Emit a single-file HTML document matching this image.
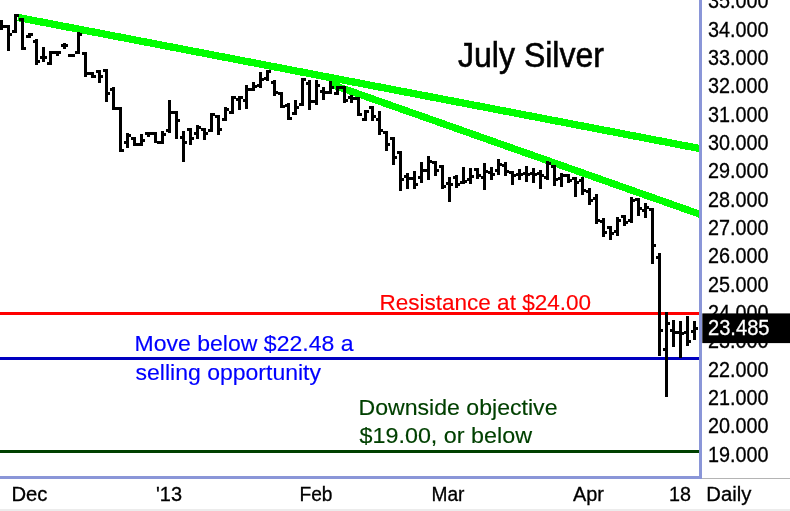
<!DOCTYPE html>
<html>
<head>
<meta charset="utf-8">
<title>July Silver</title>
<style>
html, body { margin: 0; padding: 0; background: #ffffff; }
body { width: 790px; height: 511px; overflow: hidden; }
svg { display: block; }
text { font-family: 'Liberation Sans', Arial, sans-serif; }
</style>
</head>
<body>
<svg width="790" height="511" viewBox="0 0 790 511">
<rect x="0" y="0" width="790" height="511" fill="#ffffff"/>
<rect x="0" y="509" width="790" height="2" fill="#ececec" shape-rendering="crispEdges"/>

<!-- trend lines -->
<g stroke="#00ff00" stroke-width="7" stroke-linecap="butt" fill="none" shape-rendering="crispEdges">
<line x1="18" y1="17.5" x2="700" y2="148.6" stroke-width="7.3"/>
<line x1="330" y1="83.9" x2="700" y2="214.3" stroke-width="7.1"/>
</g>

<!-- horizontal levels -->
<g shape-rendering="crispEdges">
<rect x="0" y="312" width="699" height="3" fill="#ff0000"/>
<rect x="0" y="357" width="699" height="3" fill="#0000c0"/>
<rect x="0" y="450" width="699" height="3" fill="#004000"/>
</g>

<!-- axes -->
<g shape-rendering="crispEdges">
<rect x="699" y="0" width="3" height="479" fill="#8a96d8"/>
<rect x="0" y="476" width="702" height="3" fill="#8a96d8"/>
<rect x="702" y="478" width="88" height="1" fill="#b4b4b4"/>
</g>

<!-- price bars -->
<path d="M0 20h3v10h-3zM3 25h2v3h-2zM7 25h3v26h-3zM5 25h2v3h-2zM10 33h2v3h-2zM14 14h3v19h-3zM12 30h2v3h-2zM17 14h2v3h-2zM21 18h3v32h-3zM19 18h2v3h-2zM24 47h2v3h-2zM28 33h3v5h-3zM26 35h2v3h-2zM31 33h2v3h-2zM35 39h3v26h-3zM33 40h2v3h-2zM38 60h2v3h-2zM42 47h3v15h-3zM40 56h2v3h-2zM45 56h2v3h-2zM49 51h3v14h-3zM47 62h2v3h-2zM52 51h2v3h-2zM56 51h3v5h-3zM54 51h2v3h-2zM59 51h2v3h-2zM63 43h3v6h-3zM61 44h2v3h-2zM66 44h2v3h-2zM70 54h3v3h-3zM68 54h2v3h-2zM73 54h2v3h-2zM77 32h3v22h-3zM75 51h2v3h-2zM80 33h2v3h-2zM84 52h3v25h-3zM82 52h2v3h-2zM87 72h2v3h-2zM91 72h3v6h-3zM89 72h2v3h-2zM94 75h2v3h-2zM98 70h3v13h-3zM96 70h2v3h-2zM101 75h2v3h-2zM105 69h3v33h-3zM103 69h2v3h-2zM108 92h2v3h-2zM112 87h3v23h-3zM110 88h2v3h-2zM115 107h2v3h-2zM119 107h3v45h-3zM117 107h2v3h-2zM122 149h2v3h-2zM126 133h3v15h-3zM124 141h2v3h-2zM129 134h2v3h-2zM133 137h3v9h-3zM131 137h2v3h-2zM136 143h2v3h-2zM140 134h3v12h-3zM138 143h2v3h-2zM143 139h2v3h-2zM147 132h3v5h-3zM145 132h2v3h-2zM150 132h2v3h-2zM154 132h3v11h-3zM152 132h2v3h-2zM157 141h2v3h-2zM161 131h3v13h-3zM159 141h2v3h-2zM164 133h2v3h-2zM168 100h3v33h-3zM166 129h2v3h-2zM171 111h2v3h-2zM175 111h3v28h-3zM173 111h2v3h-2zM178 119h2v3h-2zM182 131h3v31h-3zM180 136h2v3h-2zM185 141h2v3h-2zM189 128h3v17h-3zM187 128h2v3h-2zM192 137h2v3h-2zM196 125h3v14h-3zM194 132h2v3h-2zM199 126h2v3h-2zM203 128h3v12h-3zM201 128h2v3h-2zM206 132h2v3h-2zM210 113h3v19h-3zM208 129h2v3h-2zM213 113h2v3h-2zM217 115h3v20h-3zM215 115h2v3h-2zM220 128h2v3h-2zM224 107h3v14h-3zM222 118h2v3h-2zM227 108h2v3h-2zM231 96h3v18h-3zM229 111h2v3h-2zM234 96h2v3h-2zM238 96h3v14h-3zM236 98h2v3h-2zM241 96h2v3h-2zM245 85h3v24h-3zM243 99h2v3h-2zM248 88h2v3h-2zM252 82h3v9h-3zM250 88h2v3h-2zM255 85h2v3h-2zM259 72h3v16h-3zM257 84h2v3h-2zM262 78h2v3h-2zM266 70h3v11h-3zM264 77h2v3h-2zM269 70h2v3h-2zM273 80h3v16h-3zM271 81h2v3h-2zM276 91h2v3h-2zM280 92h3v16h-3zM278 92h2v3h-2zM283 105h2v3h-2zM287 103h3v17h-3zM285 104h2v3h-2zM290 117h2v3h-2zM294 100h3v15h-3zM292 112h2v3h-2zM297 106h2v3h-2zM301 78h3v28h-3zM299 103h2v3h-2zM304 78h2v3h-2zM308 80h3v30h-3zM306 82h2v3h-2zM311 100h2v3h-2zM315 80h3v25h-3zM313 100h2v3h-2zM318 84h2v3h-2zM322 87h3v13h-3zM320 90h2v3h-2zM325 91h2v3h-2zM329 81h3v13h-3zM327 91h2v3h-2zM332 86h2v3h-2zM336 86h3v9h-3zM334 92h2v3h-2zM339 86h2v3h-2zM343 86h3v17h-3zM341 86h2v3h-2zM346 99h2v3h-2zM350 95h3v8h-3zM348 96h2v3h-2zM353 97h2v3h-2zM357 97h3v19h-3zM355 97h2v3h-2zM360 113h2v3h-2zM364 110h3v11h-3zM362 118h2v3h-2zM367 110h2v3h-2zM371 106h3v15h-3zM369 106h2v3h-2zM374 115h2v3h-2zM378 111h3v24h-3zM376 118h2v3h-2zM381 129h2v3h-2zM385 131h3v20h-3zM383 131h2v3h-2zM388 143h2v3h-2zM392 137h3v28h-3zM390 137h2v3h-2zM395 156h2v3h-2zM399 151h3v40h-3zM397 151h2v3h-2zM402 178h2v3h-2zM406 173h3v16h-3zM404 175h2v3h-2zM409 177h2v3h-2zM413 171h3v18h-3zM411 177h2v3h-2zM416 183h2v3h-2zM420 162h3v21h-3zM418 176h2v3h-2zM423 169h2v3h-2zM427 156h3v24h-3zM425 169h2v3h-2zM430 160h2v3h-2zM434 161h3v15h-3zM432 161h2v3h-2zM437 169h2v3h-2zM441 165h3v24h-3zM439 165h2v3h-2zM444 185h2v3h-2zM448 177h3v25h-3zM446 182h2v3h-2zM451 183h2v3h-2zM455 175h3v13h-3zM453 176h2v3h-2zM458 183h2v3h-2zM462 167h3v17h-3zM460 181h2v3h-2zM465 180h2v3h-2zM469 168h3v16h-3zM467 178h2v3h-2zM472 175h2v3h-2zM476 168h3v11h-3zM474 168h2v3h-2zM479 174h2v3h-2zM483 163h3v27h-3zM481 176h2v3h-2zM486 170h2v3h-2zM490 167h3v13h-3zM488 171h2v3h-2zM493 173h2v3h-2zM497 159h3v16h-3zM495 169h2v3h-2zM500 163h2v3h-2zM504 162h3v14h-3zM502 164h2v3h-2zM507 170h2v3h-2zM511 171h3v14h-3zM509 171h2v3h-2zM514 174h2v3h-2zM518 169h3v11h-3zM516 173h2v3h-2zM521 173h2v3h-2zM525 166h3v16h-3zM523 172h2v3h-2zM528 173h2v3h-2zM532 168h3v15h-3zM530 172h2v3h-2zM535 173h2v3h-2zM539 170h3v19h-3zM537 172h2v3h-2zM542 174h2v3h-2zM546 161h3v19h-3zM544 176h2v3h-2zM549 162h2v3h-2zM553 165h3v21h-3zM551 165h2v3h-2zM556 178h2v3h-2zM560 173h3v14h-3zM558 177h2v3h-2zM563 174h2v3h-2zM567 174h3v9h-3zM565 174h2v3h-2zM570 179h2v3h-2zM574 177h3v20h-3zM572 177h2v3h-2zM577 181h2v3h-2zM581 177h3v18h-3zM579 179h2v3h-2zM584 189h2v3h-2zM588 188h3v17h-3zM586 190h2v3h-2zM591 199h2v3h-2zM595 194h3v30h-3zM593 197h2v3h-2zM598 219h2v3h-2zM602 218h3v19h-3zM600 220h2v3h-2zM605 231h2v3h-2zM609 226h3v14h-3zM607 226h2v3h-2zM612 232h2v3h-2zM616 217h3v19h-3zM614 230h2v3h-2zM619 219h2v3h-2zM623 215h3v11h-3zM621 215h2v3h-2zM626 221h2v3h-2zM630 197h3v26h-3zM628 219h2v3h-2zM633 199h2v3h-2zM637 198h3v18h-3zM635 198h2v3h-2zM640 207h2v3h-2zM644 203h3v15h-3zM642 209h2v3h-2zM647 206h2v3h-2zM651 208h3v56h-3zM649 208h2v3h-2zM654 244h2v3h-2zM658 253h3v103h-3zM656 256h2v3h-2zM661 329h2v3h-2zM665 312h3v85h-3zM663 348h2v3h-2zM668 322h2v3h-2zM672 320h3v27h-3zM670 329h2v3h-2zM675 331h2v3h-2zM679 321h3v37h-3zM677 331h2v3h-2zM682 332h2v3h-2zM686 316h3v30h-3zM684 331h2v3h-2zM689 340h2v3h-2zM693 321h3v19h-3zM691 330h2v3h-2zM696 327h2v3h-2z" fill="#000000" shape-rendering="crispEdges"/>

<!-- y axis labels -->
<g font-size="21.2" fill="#000000" stroke="#000000" stroke-width="0.3">
<text x="708" y="8.2" textLength="60.5" lengthAdjust="spacingAndGlyphs">35.000</text>
<text x="708" y="36.5" textLength="60.5" lengthAdjust="spacingAndGlyphs">34.000</text>
<text x="708" y="64.8" textLength="60.5" lengthAdjust="spacingAndGlyphs">33.000</text>
<text x="708" y="93.2" textLength="60.5" lengthAdjust="spacingAndGlyphs">32.000</text>
<text x="708" y="121.5" textLength="60.5" lengthAdjust="spacingAndGlyphs">31.000</text>
<text x="708" y="149.9" textLength="60.5" lengthAdjust="spacingAndGlyphs">30.000</text>
<text x="708" y="178.2" textLength="60.5" lengthAdjust="spacingAndGlyphs">29.000</text>
<text x="708" y="206.5" textLength="60.5" lengthAdjust="spacingAndGlyphs">28.000</text>
<text x="708" y="234.9" textLength="60.5" lengthAdjust="spacingAndGlyphs">27.000</text>
<text x="708" y="263.2" textLength="60.5" lengthAdjust="spacingAndGlyphs">26.000</text>
<text x="708" y="291.6" textLength="60.5" lengthAdjust="spacingAndGlyphs">25.000</text>
<text x="708" y="319.9" textLength="60.5" lengthAdjust="spacingAndGlyphs">24.000</text>
<text x="708" y="348.2" textLength="60.5" lengthAdjust="spacingAndGlyphs">23.000</text>
<text x="708" y="376.6" textLength="60.5" lengthAdjust="spacingAndGlyphs">22.000</text>
<text x="708" y="404.9" textLength="60.5" lengthAdjust="spacingAndGlyphs">21.000</text>
<text x="708" y="433.3" textLength="60.5" lengthAdjust="spacingAndGlyphs">20.000</text>
<text x="708" y="461.6" textLength="60.5" lengthAdjust="spacingAndGlyphs">19.000</text>
</g>

<!-- last price box -->
<rect x="702.3" y="313.4" width="88" height="29.7" fill="#000000"/>
<text x="708" y="334.7" font-size="21.2" fill="#ffffff" stroke="#ffffff" stroke-width="0.3" textLength="61.5" lengthAdjust="spacingAndGlyphs">23.485</text>

<!-- x axis labels -->
<g font-size="20" fill="#000000" stroke="#000000" stroke-width="0.3">
<text x="11.5" y="501.2" textLength="36" lengthAdjust="spacingAndGlyphs">Dec</text>
<text x="156" y="501.2" textLength="26" lengthAdjust="spacingAndGlyphs">'13</text>
<text x="299.5" y="501.2" textLength="33" lengthAdjust="spacingAndGlyphs">Feb</text>
<text x="431.5" y="501.2" textLength="33" lengthAdjust="spacingAndGlyphs">Mar</text>
<text x="573" y="501.2" textLength="31" lengthAdjust="spacingAndGlyphs">Apr</text>
<text x="669" y="501.2" textLength="22" lengthAdjust="spacingAndGlyphs">18</text>
<text x="706.3" y="501.2" textLength="45" lengthAdjust="spacingAndGlyphs">Daily</text>
</g>

<!-- annotations -->
<text x="458" y="66.8" font-size="34.6" fill="#000000" stroke="#000000" stroke-width="0.6" textLength="146" lengthAdjust="spacingAndGlyphs">July Silver</text>
<text x="379.5" y="310.4" font-size="22.3" fill="#ff0000" stroke="#ff0000" stroke-width="0.15" textLength="211.5" lengthAdjust="spacingAndGlyphs">Resistance at $24.00</text>
<text x="134.5" y="351.4" font-size="22" fill="#0000ff" stroke="#0000ff" stroke-width="0.15" textLength="219" lengthAdjust="spacingAndGlyphs">Move below $22.48 a</text>
<text x="135.5" y="380" font-size="22" fill="#0000ff" stroke="#0000ff" stroke-width="0.15" textLength="185.5" lengthAdjust="spacingAndGlyphs">selling opportunity</text>
<text x="358.5" y="414.7" font-size="22" fill="#004000" stroke="#004000" stroke-width="0.15" textLength="199" lengthAdjust="spacingAndGlyphs">Downside objective</text>
<text x="359.5" y="443.4" font-size="22" fill="#004000" stroke="#004000" stroke-width="0.15" textLength="172.5" lengthAdjust="spacingAndGlyphs">$19.00, or below</text>
</svg>
</body>
</html>
